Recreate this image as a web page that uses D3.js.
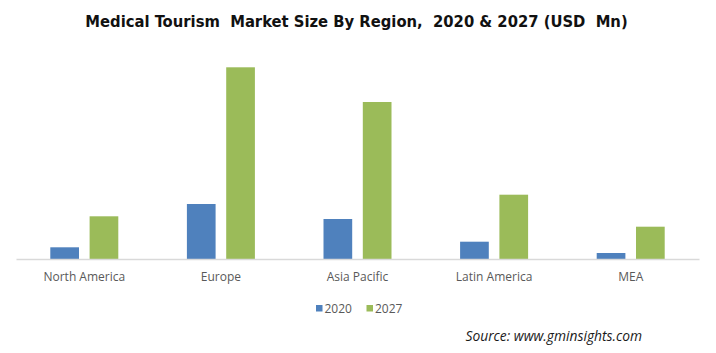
<!DOCTYPE html>
<html>
<head>
<meta charset="utf-8">
<script src="https://cdn.jsdelivr.net/npm/d3@7"></script>
<style>
  body { margin: 0; background: #fff; }
  svg { display: block; }
</style>
</head>
<body>
<div id="chart"></div>
<script>
const regions = ["North America", "Europe", "Asia Pacific", "Latin America", "MEA"];
const years = ["2020", "2027"];
const values2020 = [1170, 5500, 4000, 1730, 600];
const values2027 = [4270, 19170, 15700, 6430, 3230];
const colors = ["#4f81bd", "#9bbb59"];

const width = 716;
const height = 353;
const baseY = 259;

const svg = d3.select("#chart")
    .append("svg")
    .attr("width", width)
    .attr("height", height);

// title, squeezed to the width it has in the picture
const title = svg.append("text")
    .attr("x", 356.5)
    .attr("y", 27)
    .attr("text-anchor", "middle")
    .style("font-family", "'DejaVu Sans Condensed', 'DejaVu Sans'")
    .style("font-weight", "bold")
    .style("font-size", "14px")
    .style("white-space", "pre")
    .attr("xml:space", "preserve")
    .attr("fill", "#111")
    .text("Medical Tourism  Market Size By Region,  2020 & 2027 (USD  Mn)");
const tw = title.node().getComputedTextLength();
title.style("font-size", (14 * 543 / tw) + "px");

const x0 = d3.scaleBand().domain(regions).range([16, 699]);
const x1 = d3.scaleBand().domain(years).range([-34, 34]).paddingInner(0.27);
const y = d3.scaleLinear().domain([0, 20000]).range([baseY, 59]);

const rows = regions.map((r, i) => ({region: r, vals: [values2020[i], values2027[i]]}));

const groups = svg.selectAll("g.grp")
    .data(rows)
    .enter()
    .append("g")
    .attr("class", "grp")
    .attr("transform", d => "translate(" + (x0(d.region) + x0.bandwidth() / 2) + ",0)");

groups.selectAll("rect")
    .data(d => d.vals.map((v, j) => ({year: years[j], v: v, j: j})))
    .enter()
    .append("rect")
    .attr("x", d => x1(d.year))
    .attr("y", d => y(d.v))
    .attr("width", x1.bandwidth())
    .attr("height", d => baseY - y(d.v))
    .attr("fill", d => colors[d.j]);

// axis
const axis = svg.append("g")
    .attr("transform", "translate(0," + baseY + ")")
    .call(d3.axisBottom(x0).tickSize(0).tickPadding(13));
axis.select(".domain").attr("stroke", "#d9d9d9").attr("stroke-width", 1.3);
axis.selectAll("text")
    .style("font-family", "Open Sans")
    .style("font-size", "12px")
    .attr("fill", "#595959");

// legend
const legend = svg.append("g").attr("transform", "translate(316,0)");
years.forEach((yr, i) => {
    const g = legend.append("g").attr("transform", "translate(" + (i * 50.5) + ",0)");
    g.append("rect")
        .attr("x", 0).attr("y", 305)
        .attr("width", 6.5).attr("height", 6.5)
        .attr("fill", colors[i]);
    g.append("text")
        .attr("x", 8.5).attr("y", 312.5)
        .style("font-family", "Open Sans")
        .style("font-size", "12px")
        .attr("fill", "#595959")
        .text(yr);
});

svg.append("text")
    .attr("x", 642)
    .attr("y", 340.5)
    .attr("text-anchor", "end")
    .style("font-family", "Open Sans")
    .style("font-style", "italic")
    .style("font-size", "13.8px")
    .attr("fill", "#1a1a1a")
    .text("Source: www.gminsights.com");
</script>
</body>
</html>
